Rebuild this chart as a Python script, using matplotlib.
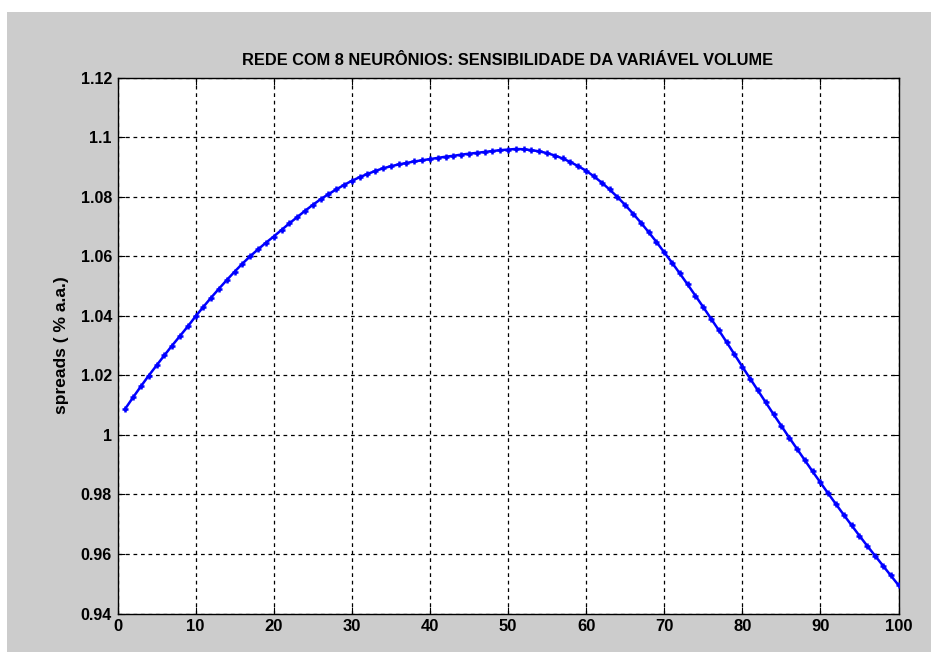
import matplotlib
matplotlib.use("Agg")
import matplotlib.pyplot as plt
from matplotlib.patches import Rectangle
from matplotlib import font_manager

x_values = list(range(1, 101))
spreads = [
    1.0088, 1.0126, 1.0163, 1.0199, 1.0233, 1.0267, 1.0300, 1.0332, 1.0364, 1.0398,
    1.0430, 1.0461, 1.0491, 1.0520, 1.0548, 1.0575, 1.0600, 1.0623, 1.0645, 1.0666,
    1.0688, 1.0710, 1.0731, 1.0752, 1.0772, 1.0791, 1.0808, 1.0824, 1.0839, 1.0853,
    1.0865, 1.0876, 1.0886, 1.0895, 1.0902, 1.0908, 1.0913, 1.0918, 1.0922, 1.0926,
    1.0930, 1.0934, 1.0937, 1.0941, 1.0944, 1.0947, 1.0950, 1.0953, 1.0956, 1.0958,
    1.0960, 1.0959, 1.0956, 1.0952, 1.0946, 1.0938, 1.0928, 1.0916, 1.0902, 1.0887,
    1.0868, 1.0847, 1.0824, 1.0799, 1.0772, 1.0743, 1.0713, 1.0681, 1.0648, 1.0613,
    1.0578, 1.0542, 1.0505, 1.0467, 1.0429, 1.0390, 1.0351, 1.0311, 1.0270, 1.0229,
    1.0189, 1.0149, 1.0109, 1.0069, 1.0030, 0.9991, 0.9953, 0.9915, 0.9877, 0.9840,
    0.9803, 0.9767, 0.9731, 0.9696, 0.9661, 0.9627, 0.9594, 0.9561, 0.9528, 0.9495,
]
x_ticks = [0, 10, 20, 30, 40, 50, 60, 70, 80, 90, 100]
y_ticks = [0.94, 0.96, 0.98, 1.0, 1.02, 1.04, 1.06, 1.08, 1.1, 1.12]
y_tick_labels = ["0.94", "0.96", "0.98", "1", "1.02", "1.04", "1.06", "1.08", "1.1", "1.12"]
title = "REDE COM 8 NEURÔNIOS: SENSIBILIDADE DA VARIÁVEL VOLUME"
ylabel = "spreads ( % a.a.)"

names = {f.name for f in font_manager.fontManager.ttflist}
narrow = "Liberation Sans Narrow" if "Liberation Sans Narrow" in names else "Liberation Sans"
normal = "Liberation Sans"

W, H = 931, 652
fig = plt.figure(figsize=(W / 100, H / 100), dpi=100, facecolor="white")
fig.patches.append(Rectangle((7 / W, 0), 1 - 7 / W, 1 - 12 / H,
                             transform=fig.transFigure, facecolor="#cccccc",
                             edgecolor="none", zorder=-10))

left, right, top, bottom = 117.5, 898.5, 77.5, 613.5
ax = fig.add_axes([left / W, 1 - bottom / H, (right - left) / W, (bottom - top) / H])
ax.set_facecolor("white")

ax.plot(x_values, spreads, color="#0000ff", linewidth=1.8, marker="+",
        markersize=5, markeredgewidth=1.8, zorder=3)

ax.set_xlim(0, 100)
ax.set_ylim(0.94, 1.12)
ax.set_xticks(x_ticks)
ax.set_yticks(y_ticks)
ax.set_yticklabels(y_tick_labels)
ax.grid(True, color="black", linestyle=(0, (3, 3)), linewidth=0.9)
ax.tick_params(direction="in", length=5, width=0.8, top=True, right=True,
               pad=4)
for lab in ax.get_xticklabels():
    lab.set_fontfamily(narrow)
    lab.set_fontweight("bold")
    lab.set_fontsize(12)
for lab in ax.get_yticklabels():
    lab.set_fontfamily(normal)
    lab.set_fontweight("bold")
    lab.set_fontsize(11.5)
for s in ax.spines.values():
    s.set_linewidth(1.0)
    s.set_color("black")

ax.set_title(title, fontfamily=narrow, fontweight="bold", fontsize=11.8, pad=9)
ax.set_ylabel(ylabel, fontfamily=normal, fontweight="bold", fontsize=12.5, labelpad=8)

fig.savefig("out.png", dpi=100, facecolor=fig.get_facecolor())
